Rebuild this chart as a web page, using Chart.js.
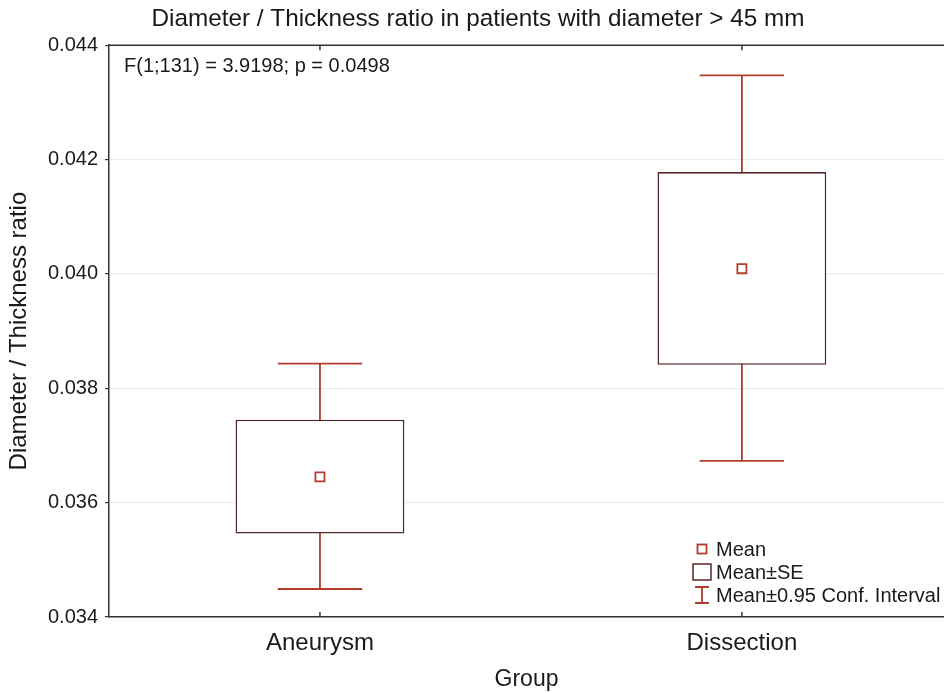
<!DOCTYPE html>
<html>
<head>
<meta charset="utf-8">
<title>Diameter / Thickness ratio</title>
<script src="https://cdn.jsdelivr.net/npm/chart.js@4/dist/chart.umd.min.js"></script>
<style>
  html, body { margin: 0; padding: 0; background: #fff; overflow: hidden; }
  canvas { display: block; }
</style>
</head>
<body>
<canvas id="chart" width="944" height="693"></canvas>
<script>
// datos
var groups = ["Aneurysm", "Dissection"];
var means = [0.03645, 0.04009];
var seLow = [0.03546, 0.03841];
var seHigh = [0.03745, 0.04178];
var ciLow = [0.03449, 0.03673];
var ciHigh = [0.03843, 0.04347];
var yTicks = [0.034, 0.036, 0.038, 0.040, 0.042, 0.044];
var statText = "F(1;131) = 3.9198; p = 0.0498";

var BOX_COLOR = "#552626";
var RED = "#b23c2d";
var AXIS = "#333333";
var FONT = '"Liberation Sans", Arial, Helvetica, sans-serif';

Chart.defaults.font.family = FONT;
Chart.defaults.color = "#1a1a1a";

// bigotes, marco superior, anotacion y leyenda
var extras = {
  id: "extras",
  beforeDatasetsDraw: function(chart){
    var ctx = chart.ctx, xs = chart.scales.x, ys = chart.scales.y;
    ctx.save();
    ctx.strokeStyle = RED;
    ctx.lineWidth = 1.8;
    groups.forEach(function(g, i){
      var x = xs.getPixelForValue(i);
      var yLo = ys.getPixelForValue(ciLow[i]);
      var yHi = ys.getPixelForValue(ciHigh[i]);
      var c0 = xs.getPixelForValue(i - 0.1), c1 = xs.getPixelForValue(i + 0.1);
      ctx.beginPath();
      ctx.moveTo(x, yLo); ctx.lineTo(x, yHi);
      ctx.moveTo(c0, yLo); ctx.lineTo(c1, yLo);
      ctx.moveTo(c0, yHi); ctx.lineTo(c1, yHi);
      ctx.stroke();
    });
    ctx.restore();
  },
  afterDraw: function(chart){
    var ctx = chart.ctx, a = chart.chartArea, xs = chart.scales.x;
    ctx.save();
    // linea superior y marcas hacia dentro
    ctx.strokeStyle = AXIS;
    ctx.lineWidth = 1.5;
    ctx.beginPath();
    ctx.moveTo(a.left, a.top); ctx.lineTo(a.right, a.top);
    groups.forEach(function(g, i){
      var x = xs.getPixelForValue(i);
      ctx.moveTo(x, a.top); ctx.lineTo(x, a.top + 5);
      ctx.moveTo(x, a.bottom); ctx.lineTo(x, a.bottom - 5);
    });
    ctx.stroke();

    // texto del test F
    ctx.fillStyle = "#1a1a1a";
    ctx.font = "20px " + FONT;
    ctx.textBaseline = "middle";
    ctx.textAlign = "left";
    ctx.fillText(statText, a.left + 15, a.top + 21);

    // leyenda
    var mx = a.right - 242, tx = a.right - 228;
    var r1 = a.bottom - 68, r2 = a.bottom - 45, r3 = a.bottom - 22;
    ctx.lineWidth = 1.8;
    ctx.strokeStyle = RED;
    ctx.strokeRect(mx - 4.5, r1 - 4.5, 9, 9);
    ctx.strokeStyle = BOX_COLOR;
    ctx.lineWidth = 1.5;
    ctx.strokeRect(mx - 9, r2 - 8, 18, 16);
    ctx.strokeStyle = RED;
    ctx.lineWidth = 1.8;
    ctx.beginPath();
    ctx.moveTo(mx, r3 - 8); ctx.lineTo(mx, r3 + 8);
    ctx.moveTo(mx - 7, r3 - 8); ctx.lineTo(mx + 7, r3 - 8);
    ctx.moveTo(mx - 7, r3 + 8); ctx.lineTo(mx + 7, r3 + 8);
    ctx.stroke();
    ctx.fillText("Mean", tx, r1 + 1);
    ctx.fillText("Mean\u00b1SE", tx, r2 + 1);
    ctx.fillText("Mean\u00b10.95 Conf. Interval", tx, r3 + 1);
    ctx.restore();
  }
};

var boxData = groups.map(function(g, i){ return { x: i, y: [seLow[i], seHigh[i]] }; });
var meanData = groups.map(function(g, i){ return { x: i, y: means[i] }; });

new Chart(document.getElementById("chart"), {
  type: "bar",
  data: {
    datasets: [
      {
        type: "scatter",
        label: "Mean",
        data: meanData,
        pointStyle: "rect",
        pointRadius: 6.4,
        pointBorderWidth: 1.8,
        pointBorderColor: RED,
        pointBackgroundColor: "#ffffff",
        order: 0
      },
      {
        type: "bar",
        label: "Mean\u00b1SE",
        data: boxData,
        backgroundColor: "#ffffff",
        borderColor: BOX_COLOR,
        borderWidth: 1.6,
        borderSkipped: false,
        categoryPercentage: 1,
        barPercentage: 0.4,
        order: 1
      }
    ]
  },
  options: {
    responsive: false,
    animation: false,
    layout: { autoPadding: false, padding: { left: 12, right: 0, top: 0, bottom: 0 } },
    plugins: {
      legend: { display: false },
      tooltip: { enabled: false },
      title: {
        display: true,
        text: "Diameter / Thickness ratio in patients with diameter > 45 mm",
        font: { size: 24.3, weight: "normal" },
        color: "#1a1a1a",
        padding: { top: 5, bottom: 11 }
      }
    },
    scales: {
      x: {
        type: "linear",
        offset: false,
        min: -0.5,
        max: 1.479,
        afterBuildTicks: function(s){ s.ticks = groups.map(function(g, i){ return { value: i }; }); },
        afterFit: function(s){ s.height = 76; },
        grid: { display: false, drawTicks: false, offset: false },
        border: { display: true, color: AXIS, width: 1.5 },
        ticks: {
          padding: 12,
          font: { size: 24 },
          color: "#1a1a1a",
          callback: function(v){ return groups[v]; }
        },
        title: {
          display: true,
          text: "Group",
          font: { size: 23 },
          color: "#1a1a1a",
          padding: { top: 4, bottom: 0 }
        }
      },
      y: {
        min: 0.034,
        max: 0.044,
        afterBuildTicks: function(s){ s.ticks = yTicks.map(function(v){ return { value: v }; }); },
        afterFit: function(s){ s.width = 97; },
        grid: { color: "#ececec", tickColor: AXIS, tickLength: 4, lineWidth: 1.2 },
        border: { display: true, color: AXIS, width: 1.5 },
        ticks: {
          padding: 7,
          font: { size: 20 },
          color: "#1a1a1a",
          callback: function(v){ return v.toFixed(3); }
        },
        title: {
          display: true,
          text: "Diameter / Thickness ratio",
          font: { size: 24 },
          color: "#1a1a1a",
          padding: { top: -7, bottom: 0 }
        }
      }
    }
  },
  plugins: [extras]
});
</script>
</body>
</html>
